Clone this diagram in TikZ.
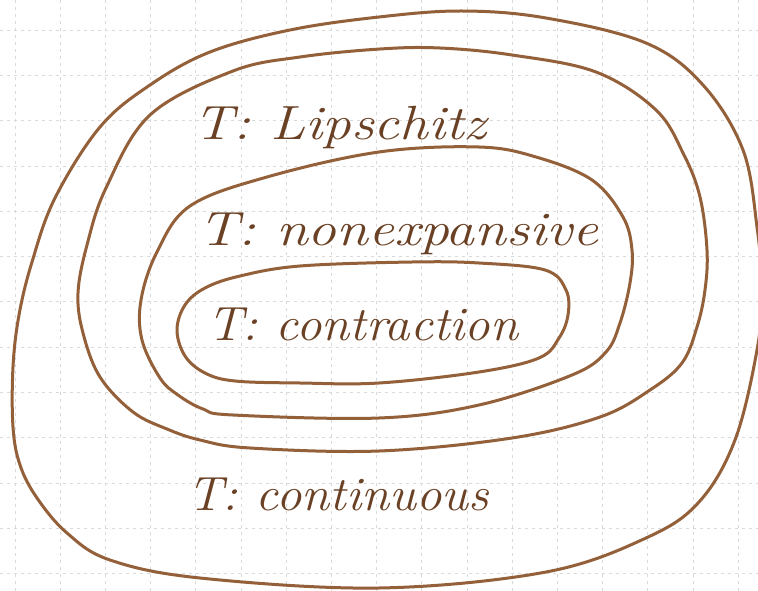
\documentclass[tikz,border=0pt]{standalone}
\definecolor{ink}{HTML}{93603A}
\definecolor{inkdark}{HTML}{6A4124}
\definecolor{gridc}{HTML}{D9D9D9}
\tikzset{
  loop/.style={draw=ink, line width=3pt, line join=round},
  gridline/.style={draw=gridc, line width=0.7pt, dash pattern=on 3pt off 4pt},
  lbl/.style={inner sep=0pt, anchor=base west, text=inkdark, font=\fontsize{48}{50}\selectfont\itshape}
}
\begin{document}
\begin{tikzpicture}[x=1pt,y=-1pt]
\useasboundingbox (0,0) rectangle (758,591);
\fill[white] (0,0) rectangle (758,591);
% grid
\foreach \gx in {15,60.2,...,750} \draw[gridline] (\gx,0) -- (\gx,591);
\foreach \gy in {30,75.3,...,590} \draw[gridline] (0,\gy) -- (758,\gy);
% outer: continuous
\draw[loop] plot[smooth cycle, tension=0.6] coordinates {
 (379,17) (462,11) (546,18) (646,43) (703,85) (743,150) (757,227) (762,290)
 (757,350) (735,440) (699,502) (646,538) (546,572) (379,588) (200,578)
 (110,560) (67,533) (37,498) (20,465) (13,427) (13,367) (19,315) (32,262)
 (55,198) (100,127) (150,85) (210,52) (290,30)};
% Lipschitz
\draw[loop] plot[smooth cycle, tension=0.6] coordinates {
 (380,49) (440,48) (512,55) (596,72) (656,110) (684,155) (700,197) (707,250)
 (705,290) (697,327) (682,363) (650,390) (600,417) (512,438) (379,451)
 (250,448) (200,440) (167,429) (133,412) (100,377) (83,333) (78,293)
 (87,245) (106,188) (150,115) (233,71) (300,57)};
% nonexpansive
\draw[loop] plot[smooth cycle, tension=0.6] coordinates {
 (379,152) (479,147) (536,157) (592,180) (623,217) (632,250) (630,283)
 (620,323) (606,352) (572,375) (479,405) (379,418) (233,415) (203,409)
 (178,395) (160,378) (142,340) (141,300) (157,252) (190,206) (267,177)};
% contraction
\draw[loop] plot[smooth cycle, tension=0.6] coordinates {
 (412,262) (479,263) (545,270) (566,290) (568,315) (559,338) (539,358)
 (479,372) (379,383) (300,383) (235,381) (205,373) (185,356) (177,330)
 (185,305) (205,288) (240,276) (300,266)};
% labels
\node[lbl, xscale=1.19] (lip) at (193,140) {T: Lipschitz};
\node[lbl, xscale=1.2] (nonexp) at (198,245) {T: nonexpansive};
\node[lbl, xscale=1.06] (contr) at (207,340) {T: contraction};
\node[lbl, xscale=1.06] (cont) at (187,510) {T: continuous};
\end{tikzpicture}
\end{document}
